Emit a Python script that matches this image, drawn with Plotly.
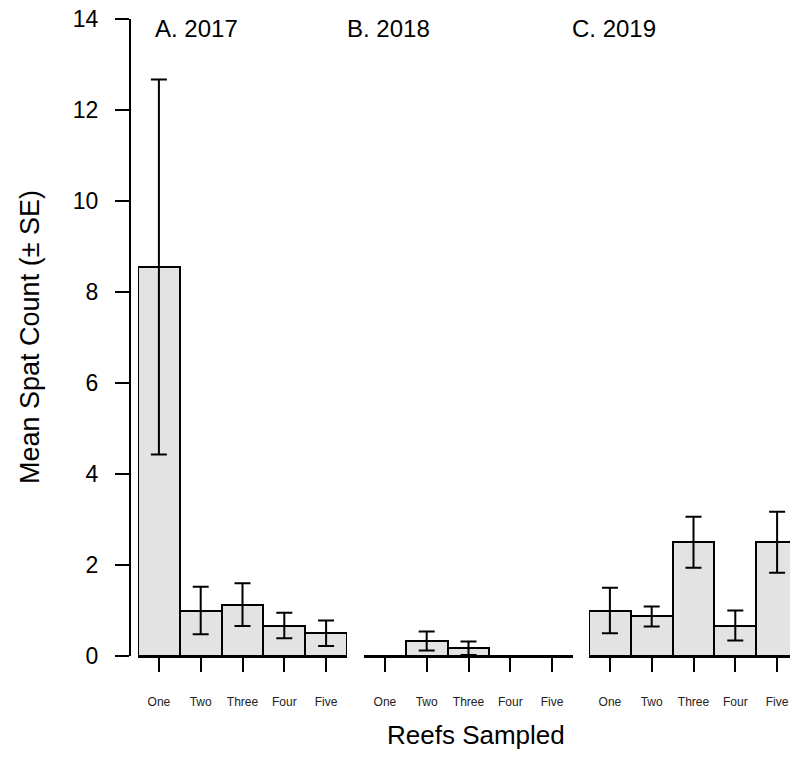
import plotly.graph_objects as go

categories = ["One", "Two", "Three", "Four", "Five"]
panel_titles = ["A. 2017", "B. 2018", "C. 2019"]

mean_2017 = [8.55, 1.0, 1.13, 0.67, 0.5]
se_2017 = [4.12, 0.52, 0.47, 0.28, 0.28]
mean_2018 = [0.0, 0.33, 0.17, 0.0, 0.0]
se_2018 = [0.0, 0.21, 0.15, 0.0, 0.0]
mean_2019 = [1.0, 0.87, 2.5, 0.67, 2.5]
se_2019 = [0.5, 0.22, 0.56, 0.33, 0.67]

y_ticks = [0, 2, 4, 6, 8, 10, 12, 14]

W, H = 790, 778
FONT = "Liberation Sans, Arial, sans-serif"

def px_x(v):
    return v / W

def px_y(v):
    return (H - v) / H

fig = go.Figure()
series = [(mean_2017, se_2017), (mean_2018, se_2018), (mean_2019, se_2019)]
axes = ["x", "x2", "x3"]
for (m, s), ax in zip(series, axes):
    fig.add_trace(go.Bar(
        x=categories, y=m, xaxis=ax, yaxis="y",
        marker=dict(color="#e3e3e3", line=dict(color="black", width=2)),
        error_y=dict(type="data", array=s, visible=True, color="black",
                     thickness=2, width=8),
        showlegend=False, hoverinfo="skip",
    ))

domains = [(138, 347), (364, 573), (589, 790)]
per_cat = (347 - 138) / 5.0
layout_axes = {}
for i, (d0, d1) in enumerate(domains):
    name = "xaxis" if i == 0 else f"xaxis{i+1}"
    hi = -0.5 + (d1 - d0) / per_cat
    layout_axes[name] = dict(
        domain=[px_x(d0), px_x(d1)], anchor="y", type="category",
        range=[-0.5, hi], showline=True, linecolor="black", linewidth=2,
        ticks="outside", ticklen=14, tickwidth=2, tickcolor="black",
        showgrid=False, zeroline=False, fixedrange=True, automargin=False,
        tickfont=dict(family=FONT, size=12, color="#222"),
        ticklabelstandoff=20,
    )

fig.update_layout(
    width=W, height=H,
    margin=dict(l=0, r=0, t=0, b=0),
    paper_bgcolor="white", plot_bgcolor="white",
    bargap=0,
    yaxis=dict(
        domain=[px_y(656), px_y(19)], range=[0, 14], anchor="free",
        position=px_x(130), showline=True, linecolor="black", linewidth=2,
        ticks="outside", ticklen=14, tickwidth=2, tickcolor="black",
        tickvals=y_ticks, showgrid=False, zeroline=False, automargin=False,
        tickfont=dict(family=FONT, size=23, color="black"),
        ticklabelstandoff=12,
    ),
    **layout_axes,
)

title_x = [153, 345, 570]
for t, xp in zip(panel_titles, title_x):
    fig.add_annotation(text=t, x=px_x(xp), y=px_y(28), xref="paper", yref="paper",
                       xanchor="left", yanchor="middle", showarrow=False,
                       font=dict(family=FONT, size=24, color="black"))

fig.add_annotation(text="Mean Spat Count (± SE)", x=px_x(30), y=px_y(337),
                   xref="paper", yref="paper", textangle=-90, showarrow=False,
                   xanchor="center", yanchor="middle",
                   font=dict(family=FONT, size=27, color="black"))
fig.add_annotation(text="Reefs Sampled", x=px_x(476), y=px_y(735),
                   xref="paper", yref="paper", showarrow=False,
                   xanchor="center", yanchor="middle",
                   font=dict(family=FONT, size=26, color="black"))

fig.write_html("out.html")
